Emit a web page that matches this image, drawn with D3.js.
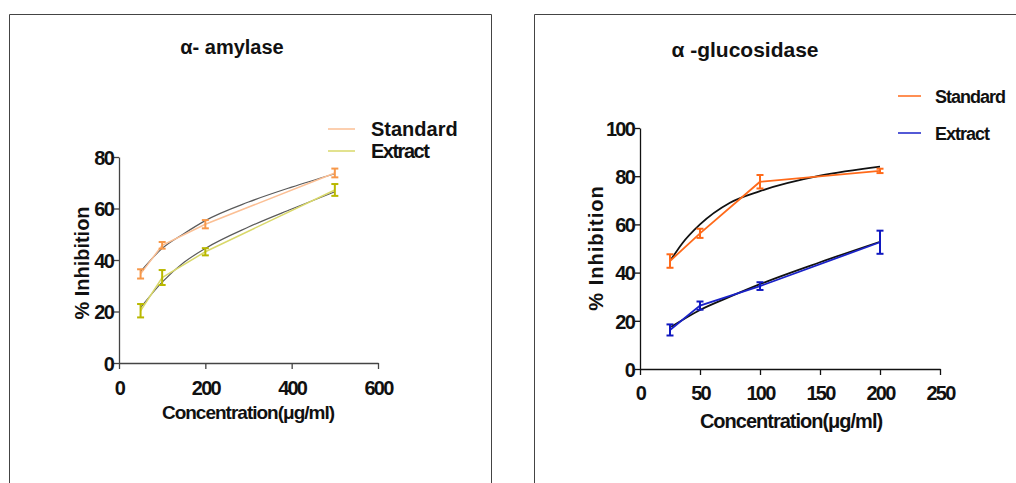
<!DOCTYPE html>
<html><head><meta charset="utf-8">
<script src="https://cdn.jsdelivr.net/npm/d3@7/dist/d3.min.js"></script>
<style>
html,body{margin:0;padding:0;background:#fff;}
text{font-family:"Liberation Sans",Arial,sans-serif;font-weight:bold;fill:#111;}
</style></head><body>
<svg id="c" width="1016" height="483"></svg>
<script>
// ---------- Data ----------
// α-amylase panel
const amyConc = [50, 100, 200, 500];
const amyStandard = [34.6, 45.7, 53.9, 73.8];
const amyStandardErr = [1.8, 1.3, 1.6, 1.7];
const amyExtract = [20.3, 33.2, 43.2, 67.2];
const amyExtractErr = [2.6, 2.9, 1.4, 2.3];
const amyStdFitX = [50, 100, 150, 200, 300, 400, 500];
const amyStdFitY = [35.5, 44.5, 50.2, 55.3, 62.5, 68.3, 73.5];
const amyExtFitX = [50, 100, 150, 200, 300, 400, 500];
const amyExtFitY = [21.5, 31.4, 39.0, 44.5, 52.8, 59.8, 66.5];
const amyXTicks = [0, 200, 400, 600];
const amyYTicks = [0, 20, 40, 60, 80];

// α-glucosidase panel
const gluConc = [25, 50, 100, 200];
const gluStandard = [44.8, 56.3, 77.7, 82.2];
const gluStandardErr = [2.8, 1.9, 2.8, 0.9];
const gluExtract = [16.2, 26.3, 34.4, 52.6];
const gluExtractErr = [2.3, 1.7, 1.6, 4.8];
const gluStdFitX = [26, 35, 50, 75, 100, 150, 200];
const gluStdFitY = [45.5, 52.0, 60.0, 69.0, 73.8, 80.2, 84.0];
const gluExtFitX = [26, 50, 75, 100, 150, 200];
const gluExtFitY = [17.5, 24.5, 30.0, 35.2, 44.3, 52.8];
const gluXTicks = [0, 50, 100, 150, 200, 250];
const gluYTicks = [0, 20, 40, 60, 80, 100];

const seriesNames = ["Standard", "Extract"];

// ---------- Drawing ----------
const svg = d3.select("#c");

// panel frames
svg.append("path").attr("d","M9.5,490 V14.5 H491.5 V490").attr("fill","none").attr("stroke","#444").attr("stroke-width",1);
svg.append("path").attr("d","M534.5,490 V14.5 H1020").attr("fill","none").attr("stroke","#444").attr("stroke-width",1);

const panels = [
  {
    title:"α- amylase", titleX:232, titleY:54, titleFont:20,
    x0:119, x1:378, y0:363, y1:157, xMax:600, yMax:80,
    xTicks:amyXTicks, yTicks:amyYTicks, axisColor:"#444",
    conc:amyConc,
    series:[
      {vals:amyStandard, err:amyStandardErr, line:"#fbbf94", bar:"#f7984a", fitX:amyStdFitX, fitY:amyStdFitY},
      {vals:amyExtract, err:amyExtractErr, line:"#d9d86a", bar:"#b9b800", fitX:amyExtFitX, fitY:amyExtFitY}
    ],
    fitColor:"#5a5a5a", fitWidth:1.2, lineWidth:1.5,
    legX1:328, legX2:355, legY:[129,151], legTextX:371, legFont:20, legSpacing:["0px","-1.5px"],
    yLabelX:82, yLabelY:263, yLabelFont:21, yLabelSpacing:"0px", yLabelLen:113,
    xLabelX:248, xLabelY:419, xLabelFont:19, xLabelSpacing:"-1px",
    xTickY:395
  },
  {
    title:"α -glucosidase", titleX:745, titleY:57, titleFont:21,
    x0:640, x1:940, y0:369, y1:128, xMax:250, yMax:100,
    xTicks:gluXTicks, yTicks:gluYTicks, axisColor:"#111",
    conc:gluConc,
    series:[
      {vals:gluStandard, err:gluStandardErr, line:"#ff6a1a", bar:"#ff6a1a", fitX:gluStdFitX, fitY:gluStdFitY},
      {vals:gluExtract, err:gluExtractErr, line:"#1a22c8", bar:"#1018c0", fitX:gluExtFitX, fitY:gluExtFitY}
    ],
    fitColor:"#111", fitWidth:1.8, lineWidth:1.8,
    legX1:898, legX2:921, legY:[96,133], legTextX:935, legFont:18, legSpacing:["-1px","-1px"],
    yLabelX:596, yLabelY:248, yLabelFont:20, yLabelSpacing:"1px", yLabelLen:null,
    xLabelX:791, xLabelY:428, xLabelFont:20, xLabelSpacing:"-1px",
    xTickY:400
  }
];

panels.forEach(p => {
  const g = svg.append("g");
  const x = d3.scaleLinear().domain([0,p.xMax]).range([p.x0,p.x1]);
  const y = d3.scaleLinear().domain([0,p.yMax]).range([p.y0,p.y1]);

  // axes
  const xa = g.append("g").attr("transform",`translate(0,${p.y0})`)
    .call(d3.axisBottom(x).tickValues(p.xTicks).tickSize(6).tickSizeOuter(0).tickFormat(d3.format("d")));
  const ya = g.append("g").attr("transform",`translate(${p.x0},0)`)
    .call(d3.axisLeft(y).tickValues(p.yTicks).tickSize(5).tickSizeOuter(0).tickFormat(d3.format("d")));
  [xa,ya].forEach(a=>{
    a.select(".domain").attr("stroke",p.axisColor).attr("stroke-width",1.3);
    a.selectAll(".tick line").attr("stroke",p.axisColor).attr("stroke-width",1.3);
    a.selectAll(".tick text").attr("fill","#111").style("font-family","'Liberation Sans',Arial,sans-serif")
      .style("font-weight","bold").style("font-size","20px").style("letter-spacing","-1.8px");
  });
  xa.selectAll(".tick text").attr("dy",null).attr("y",p.xTickY-p.y0);
  ya.selectAll(".tick text").attr("x",-6).attr("dy","0.36em");

  // fitted curves
  const fitLine = d3.line().x(d=>x(d[0])).y(d=>y(d[1])).curve(d3.curveMonotoneX);
  p.series.forEach(s=>{
    g.append("path").datum(d3.zip(s.fitX,s.fitY)).attr("d",fitLine)
      .attr("fill","none").attr("stroke",p.fitColor).attr("stroke-width",p.fitWidth);
  });

  // data lines and error bars
  const dataLine = d3.line().x(d=>x(d[0])).y(d=>y(d[1]));
  p.series.forEach(s=>{
    g.append("path").datum(d3.zip(p.conc,s.vals)).attr("d",dataLine)
      .attr("fill","none").attr("stroke",s.line).attr("stroke-width",p.lineWidth);
    const eb = g.append("g").attr("stroke",s.bar).attr("stroke-width",2).attr("fill","none");
    p.conc.forEach((c,i)=>{
      const cx=x(c), yt=y(s.vals[i]+s.err[i]), yb=y(s.vals[i]-s.err[i]);
      eb.append("line").attr("x1",cx).attr("x2",cx).attr("y1",yt).attr("y2",yb);
      eb.append("line").attr("x1",cx-3.5).attr("x2",cx+3.5).attr("y1",yt).attr("y2",yt);
      eb.append("line").attr("x1",cx-3.5).attr("x2",cx+3.5).attr("y1",yb).attr("y2",yb);
    });
  });

  // title
  g.append("text").attr("x",p.titleX).attr("y",p.titleY).attr("text-anchor","middle")
    .style("font-size",p.titleFont+"px").text(p.title);

  // legend
  p.series.forEach((s,i)=>{
    g.append("line").attr("x1",p.legX1).attr("x2",p.legX2).attr("y1",p.legY[i]).attr("y2",p.legY[i])
      .attr("stroke",s.line).attr("stroke-width",1.5);
    g.append("text").attr("x",p.legTextX).attr("y",p.legY[i]+7)
      .style("font-size",p.legFont+"px").style("letter-spacing",p.legSpacing[i])
      .text(seriesNames[i]);
  });

  // axis labels
  const yl = g.append("text").attr("transform",`translate(${p.yLabelX},${p.yLabelY}) rotate(-90)`)
    .attr("text-anchor","middle").attr("dy","0.35em").style("font-size",p.yLabelFont+"px")
    .style("letter-spacing",p.yLabelSpacing).text("% Inhibition");
  if (p.yLabelLen) yl.attr("textLength",p.yLabelLen).attr("lengthAdjust","spacingAndGlyphs");
  g.append("text").attr("x",p.xLabelX).attr("y",p.xLabelY).attr("text-anchor","middle")
    .style("font-size",p.xLabelFont+"px").style("letter-spacing",p.xLabelSpacing).text("Concentration(μg/ml)");
});
</script>
</body></html>
